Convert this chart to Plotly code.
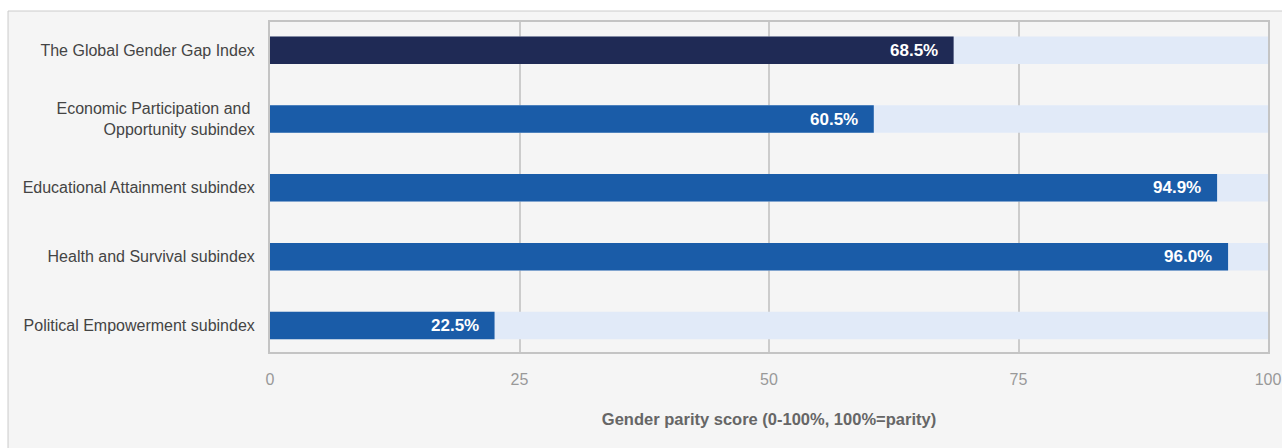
import plotly.graph_objects as go

categories = [
    "The Global Gender Gap Index",
    "Economic Participation and <br>Opportunity subindex",
    "Educational Attainment subindex",
    "Health and Survival subindex",
    "Political Empowerment subindex",
]
values = [68.5, 60.5, 94.9, 96.0, 22.5]
full_scale = [100, 100, 100, 100, 100]
bar_colors = ["#1f2a55", "#1a5ca8", "#1a5ca8", "#1a5ca8", "#1a5ca8"]
x_ticks = [0, 25, 50, 75, 100]

FONT = "Liberation Sans, Arial, sans-serif"

fig = go.Figure()
fig.add_trace(go.Bar(
    y=categories, x=full_scale, orientation="h", width=0.4,
    marker=dict(color="#e1eaf8", line=dict(width=0)),
    hoverinfo="skip", showlegend=False,
))
fig.add_trace(go.Bar(
    y=categories, x=values, orientation="h", width=0.4,
    marker=dict(color=bar_colors, line=dict(width=0)),
    showlegend=False,
))

for c, v in zip(categories, values):
    fig.add_annotation(
        x=v, y=c, text=f"<b>{v:.1f}%</b>", showarrow=False,
        xanchor="right", xshift=-14,
        font=dict(family=FONT, size=17, color="white"),
    )

# light grey panel behind the chart
fig.add_shape(
    type="rect", xref="paper", yref="paper",
    x0=-0.2625, x1=1.1, y0=-0.35, y1=1.0333,
    fillcolor="#f5f5f5", line=dict(color="#cccccc", width=1), layer="below",
)

fig.update_layout(
    width=1282, height=448,
    margin=dict(l=270, r=14, t=22, b=96, autoexpand=False),
    paper_bgcolor="white",
    plot_bgcolor="#f5f5f5",
    barmode="overlay",
    font=dict(family=FONT, size=16, color="#444444"),
    xaxis=dict(
        range=[0, 100], tickvals=x_ticks, ticktext=[str(t) for t in x_ticks],
        showgrid=True, gridcolor="#cccccc", gridwidth=1.5,
        showline=True, linecolor="#c4c4c4", linewidth=2, mirror=True,
        zeroline=False, automargin=False,
        ticks="outside", ticklen=12, tickcolor="rgba(0,0,0,0)",
        tickfont=dict(family=FONT, size=16, color="#999999"),
        title=dict(text="<b>Gender parity score (0-100%, 100%=parity)</b>",
                   font=dict(family=FONT, size=16.5, color="#666666"), standoff=26),
        fixedrange=True,
    ),
    yaxis=dict(
        categoryorder="array", categoryarray=categories,
        range=[4.385, -0.41], automargin=False,
        showgrid=False, zeroline=False,
        showline=True, linecolor="#c4c4c4", linewidth=2, mirror=True,
        ticks="outside", ticklen=10, tickcolor="rgba(0,0,0,0)",
        tickfont=dict(family=FONT, size=16, color="#444444"),
        fixedrange=True,
    ),
)

fig.write_html("out.html")
